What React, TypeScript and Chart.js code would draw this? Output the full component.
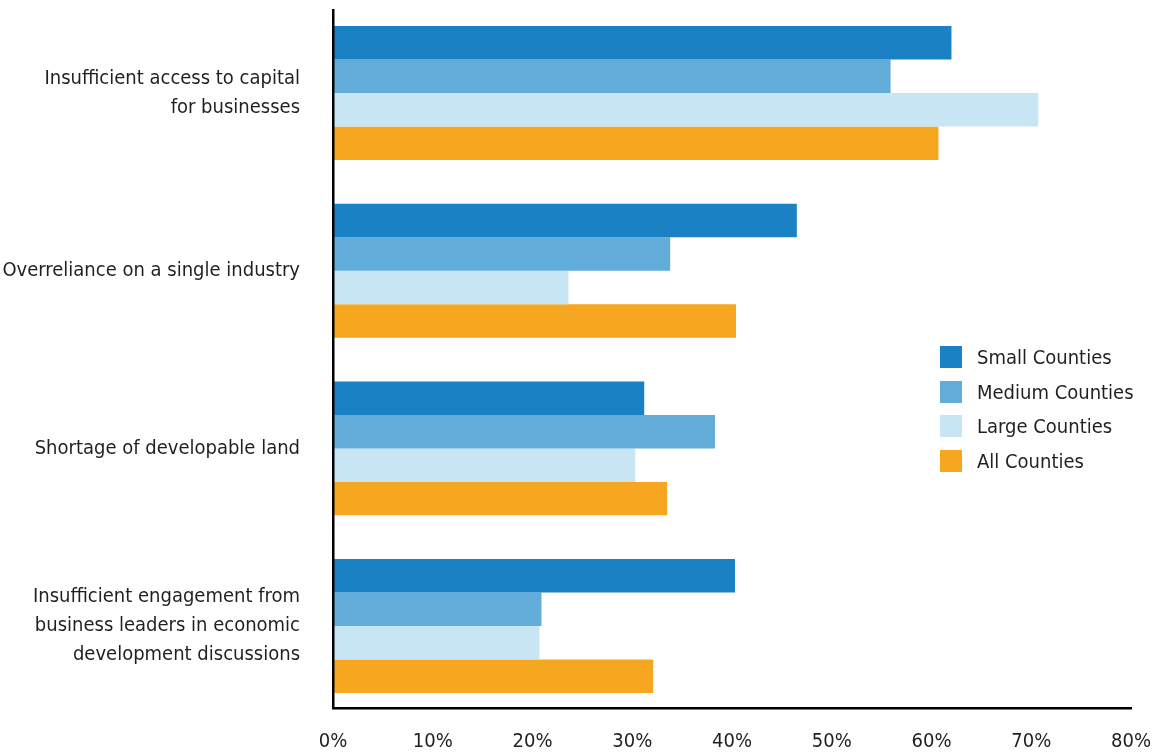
import React, { useEffect, useRef } from "react";
import { Chart, registerables } from "chart.js";

Chart.register(...registerables);

const categories: string[][] = [
  ["Insufficient access to capital", "for businesses"],
  ["Overreliance on a single industry"],
  ["Shortage of developable land"],
  ["Insufficient engagement from", "business leaders in economic", "development discussions"],
];
const seriesNames = ["Small Counties", "Medium Counties", "Large Counties", "All Counties"];
const seriesColors = ["#1a82c4", "#61acd8", "#c8e5f3", "#f6a61f"];
const smallCounties = [62.0, 46.5, 31.2, 40.3];
const mediumCounties = [55.9, 33.8, 38.3, 20.9];
const largeCounties = [70.7, 23.6, 30.3, 20.7];
const allCounties = [60.7, 40.4, 33.5, 32.1];
const xTickValues = [0, 10, 20, 30, 40, 50, 60, 70, 80];

const FONT = '"DejaVu Sans Condensed", "Liberation Sans", sans-serif';
const TEXT_COLOR = "#231f20";

export default function App() {
  const canvasRef = useRef<HTMLCanvasElement | null>(null);

  useEffect(() => {
    if (!canvasRef.current) return;
    const seriesValues = [smallCounties, mediumCounties, largeCounties, allCounties];
    const chart = new Chart(canvasRef.current, {
      type: "bar",
      data: {
        datasets: seriesValues.map((vals, s) => ({
          label: seriesNames[s],
          data: vals.map((v, i) => ({ x: v, y: i })),
          backgroundColor: seriesColors[s],
          borderWidth: 0,
          barPercentage: 1,
          categoryPercentage: 0.754,
        })),
      },
      options: {
        indexAxis: "y",
        animation: false,
        responsive: true,
        maintainAspectRatio: false,
        layout: { padding: { top: 10, right: 25, left: 0, bottom: 0 } },
        plugins: {
          legend: { display: false },
          tooltip: { enabled: false },
        },
        scales: {
          x: {
            type: "linear",
            min: xTickValues[0],
            max: xTickValues[xTickValues.length - 1],
            offset: false,
            grid: { display: false, drawTicks: false, offset: false },
            border: { display: true, color: "#000", width: 2.5, z: 1 },
            afterBuildTicks: (scale: any) => {
              scale.ticks = xTickValues.map((v) => ({ value: v }));
            },
            ticks: {
              padding: 22,
              color: TEXT_COLOR,
              font: { family: FONT, size: 20 },
              callback: (v: any) => v + "%",
            },
            afterFit: (scale: any) => {
              scale.height = 46;
              scale.paddingLeft = 0;
              scale.paddingRight = 0;
            },
          },
          y: {
            type: "linear",
            reverse: true,
            min: -0.467,
            max: 3.461,
            offset: false,
            grid: { display: false, drawTicks: false, offset: false },
            border: { display: true, color: "#000", width: 2.5, z: 1 },
            afterBuildTicks: (scale: any) => {
              scale.ticks = categories.map((_, i) => ({ value: i }));
            },
            ticks: {
              padding: 33,
              autoSkip: false,
              color: TEXT_COLOR,
              font: { family: FONT, size: 20, lineHeight: 1.45 },
              callback: (v: any) => categories[Number(v)] ?? "",
            },
            afterFit: (scale: any) => {
              scale.width = 333;
              scale.paddingTop = 0;
              scale.paddingBottom = 0;
            },
          },
        },
      },
    });
    return () => chart.destroy();
  }, []);

  return (
    <div style={{ position: "absolute", left: 0, top: 0, width: 1156, height: 754, background: "#fff" }}>
      <canvas ref={canvasRef} />
      <div style={{ position: "absolute", left: 940, top: 339.6, fontFamily: FONT, fontSize: 20, color: TEXT_COLOR, whiteSpace: "nowrap" }}>
        {seriesNames.map((name, i) => (
          <div key={name} style={{ display: "flex", alignItems: "center", height: 34.7 }}>
            <span style={{ display: "inline-block", width: 22, height: 22, background: seriesColors[i], marginRight: 15, flex: "none" }} />
            <span style={{ lineHeight: "22px" }}>{name}</span>
          </div>
        ))}
      </div>
    </div>
  );
}
